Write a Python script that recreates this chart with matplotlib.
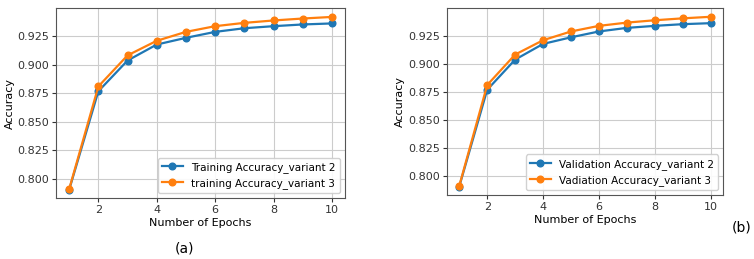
import matplotlib
matplotlib.use('Agg')
import matplotlib.pyplot as plt

# Values
epochs = [1, 2, 3, 4, 5, 6, 7, 8, 9, 10]
acc_variant2 = [0.7905, 0.8768, 0.9037, 0.9177, 0.9236, 0.9288, 0.9320, 0.9338, 0.9353, 0.9362]
acc_variant3 = [0.7910, 0.8810, 0.9082, 0.9210, 0.9288, 0.9338, 0.9367, 0.9388, 0.9405, 0.9419]

panels = [
    ('Training Accuracy_variant 2', 'training Accuracy_variant 3', '(a)'),
    ('Validation Accuracy_variant 2', 'Vadiation Accuracy_variant 3', '(b)'),
]

plt.rcParams['font.family'] = 'DejaVu Sans'
plt.rcParams['font.size'] = 8

fig = plt.figure(figsize=(7.54, 2.59), dpi=100)
axes_rects = [[0.0743, 0.234, 0.3833, 0.734], [0.5924, 0.247, 0.3669, 0.721]]

for rect, (lab2, lab3, tag) in zip(axes_rects, panels):
    ax = fig.add_axes(rect)
    ax.plot(epochs, acc_variant2, '-o', color='#1f77b4', lw=1.6, ms=4.8, label=lab2)
    ax.plot(epochs, acc_variant3, '-o', color='#ff7f0e', lw=1.6, ms=4.8, label=lab3)
    ax.set_yticks([0.800, 0.825, 0.850, 0.875, 0.900, 0.925])
    ax.set_xticks([2, 4, 6, 8, 10])
    ax.grid(True, color='#cccccc', lw=0.8)
    ax.set_xlabel('Number of Epochs', labelpad=2)
    ax.set_ylabel('Accuracy', labelpad=2)
    ax.tick_params(length=3, pad=2, colors='#333333')
    for s in ax.spines.values():
        s.set_color('#555555')
    ax.legend(loc='lower right', fontsize=7.5, framealpha=0.9, edgecolor='#cccccc')

fig.text(0.245, 0.04, '(a)', fontsize=10, ha='center', va='center')
fig.text(0.984, 0.12, '(b)', fontsize=10, ha='center', va='center')

fig.savefig('out.png', dpi=100)
